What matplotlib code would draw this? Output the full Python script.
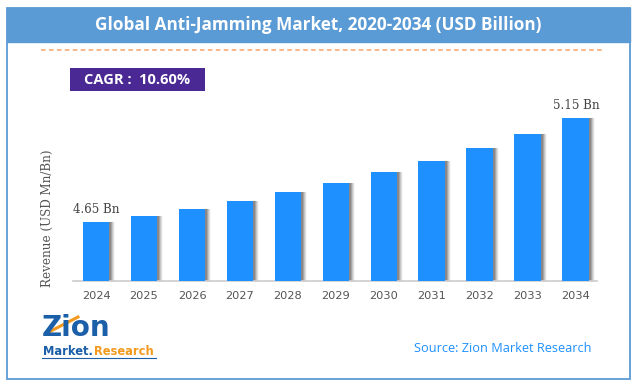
import matplotlib
matplotlib.use("Agg")
import matplotlib.pyplot as plt
from matplotlib.patches import Rectangle
import numpy as np

# ---- data ----
years = ["2024", "2025", "2026", "2027", "2028", "2029",
         "2030", "2031", "2032", "2033", "2034"]
revenue = [4.65, 5.10, 5.67, 6.30, 7.00, 7.68, 8.57, 9.43, 10.43, 11.55, 12.78]
first_label = "4.65 Bn"
last_label = "5.15 Bn"
title = "Global Anti-Jamming Market, 2020-2034 (USD Billion)"
cagr_text = "CAGR :  10.60%"
y_label = "Revenue (USD Mn/Bn)"
source_text = "Source: Zion Market Research"

W, H = 637, 385
fig = plt.figure(figsize=(W / 100, H / 100), dpi=100)
fig.patch.set_facecolor("white")

# overlay in pixel coords for decorations
deco = fig.add_axes([0, 0, 1, 1])
deco.set_xlim(0, W)
deco.set_ylim(H, 0)
deco.axis("off")

band_col = "#5B9BD5"
deco.add_patch(Rectangle((6.5, 7.5), 623.5, 371, fill=False, ec=band_col, lw=1.3))
deco.add_patch(Rectangle((6.5, 7.5), 623.5, 34, fc=band_col, ec=band_col, lw=1))
deco.text(318, 25, title, color="white", fontsize=12.3, fontweight="bold",
          family="Open Sans", ha="center", va="center")
deco.plot([41, 605], [50, 50], color="#F4A46A", lw=1.1, ls=(0, (3, 2.2)))
deco.add_patch(Rectangle((70, 68), 135, 22.5, fc="#4B2994", ec="none"))
deco.text(137.5, 79.5, cagr_text, color="white", fontsize=10.5, fontweight="bold",
          family="Open Sans", ha="center", va="center")
deco.text(47, 218, y_label, rotation=90, color="#555555", fontsize=8.6,
          family="DejaVu Serif", ha="center", va="center")
deco.text(503, 348, source_text, color="#1E90FF", fontsize=9.2,
          family="Open Sans", ha="center", va="center")

# logo approximation
deco.text(42, 336, "Zion", color="#1A5FA8", fontsize=20, fontweight="black",
          family="DejaVu Sans", ha="left", va="baseline")
deco.plot([47, 78], [333, 317], color="#F39A1E", lw=2.2)
t1 = deco.text(43, 355, "Market.", color="#1A5FA8", fontsize=8.3, fontweight="bold",
               family="DejaVu Sans", ha="left", va="baseline")
fig.canvas.draw()
bb = t1.get_window_extent(renderer=fig.canvas.get_renderer())
x_after = bb.x1 + 1.5  # display pixels == figure pixels at dpi 100
deco.text(x_after, 355, "Research", color="#F39A1E", fontsize=8.3, fontweight="bold",
          family="DejaVu Sans", ha="left", va="baseline")
deco.plot([42, 156], [358, 358], color="#1A5FA8", lw=0.8)

# ---- chart axes ----
ax_left, ax_right, ax_bottom, ax_top = 73, 597, 281, 100
ax = fig.add_axes([ax_left / W, 1 - ax_bottom / H,
                   (ax_right - ax_left) / W, (ax_bottom - ax_top) / H])
ax.set_facecolor("none")
x = np.arange(len(years))
bw = 0.56
px = 1 / 48.0
# shadow
for k, a in zip(range(1, 6), [0.35, 0.28, 0.2, 0.12, 0.06]):
    ax.bar(x + k * px * 1.2, revenue, width=bw, color="#555555", alpha=a,
           zorder=1, linewidth=0)
ax.bar(x, revenue, width=bw, color="#1E90FF", zorder=3, linewidth=0)
ax.set_xlim(-0.48, 10.44)
ax.set_ylim(0, 181 * 4.65 / 59.3)
ax.set_xticks(x)
ax.set_xticklabels(years, color="#555555", fontsize=8.2, family="DejaVu Sans")
ax.tick_params(axis="x", length=0, pad=7)
ax.set_yticks([])
for s in ["top", "right", "left"]:
    ax.spines[s].set_visible(False)
ax.spines["bottom"].set_color("#CCCCCC")
ax.spines["bottom"].set_linewidth(1.2)

ax.annotate(first_label, (x[0], revenue[0]), xytext=(0, 4), textcoords="offset points",
            ha="center", va="bottom", fontsize=8.6, family="DejaVu Serif", color="#444444")
ax.annotate(last_label, (x[-1], revenue[-1]), xytext=(0, 4), textcoords="offset points",
            ha="center", va="bottom", fontsize=8.6, family="DejaVu Serif", color="#444444")

fig.savefig("out.png", dpi=100)
